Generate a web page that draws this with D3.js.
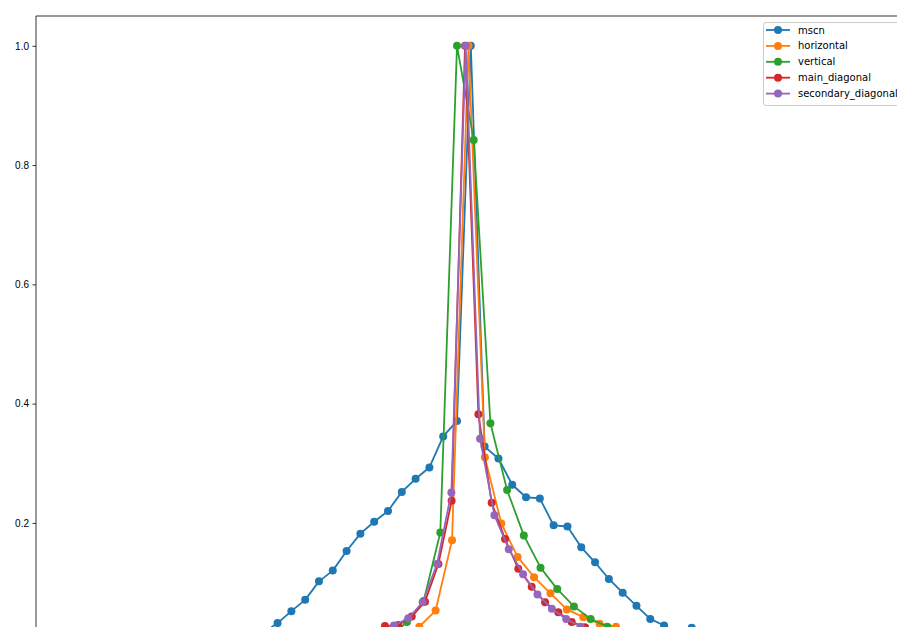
<!DOCTYPE html>
<html>
<head>
    <title>MSCN histograms</title>
    <script src="https://d3js.org/d3.v7.min.js"></script>
    <style>
        body { margin: 0; background: #fff; }
        svg { font-family: "DejaVu Sans", sans-serif; display: block; }
        .tick text { font-size: 10px; fill: #000; }
        .legend text { font-size: 10px; fill: #000; }
    </style>
</head>
<body>
    <svg width="897" height="627"></svg>
    <script>
        // series names and colours (matplotlib tab10)
        var seriesNames = ["mscn", "horizontal", "vertical", "main_diagonal", "secondary_diagonal"];
        var colors = ["#1f77b4", "#ff7f0e", "#2ca02c", "#d62728", "#9467bd"];

        // bin centres and normalised counts
        var mscnX = [-1.47, -1.37, -1.27, -1.17, -1.07, -0.97, -0.87, -0.77, -0.67, -0.57, -0.47, -0.37, -0.27, -0.17, -0.07, 0.03,
                     0.13, 0.23, 0.33, 0.43, 0.53, 0.63, 0.73, 0.83, 0.93, 1.03, 1.13, 1.23, 1.33, 1.43, 1.53, 1.63, 1.73];
        var mscnY = [0.016, 0.032, 0.052, 0.071, 0.102, 0.120, 0.153, 0.182, 0.202, 0.220, 0.252, 0.274, 0.293, 0.345, 0.371, 1.0,
                     0.328, 0.308, 0.264, 0.243, 0.241, 0.196, 0.194, 0.159, 0.134, 0.106, 0.083, 0.061, 0.039, 0.028, 0.016, 0.024, 0.012];

        var horizontalX = [-0.462, -0.343, -0.225, -0.106, 0.013, 0.132, 0.251, 0.369, 0.488, 0.607, 0.726, 0.845, 0.963, 1.082, 1.201];
        var horizontalY = [0.013, 0.026, 0.053, 0.171, 1.0, 0.310, 0.199, 0.143, 0.109, 0.082, 0.055, 0.042, 0.031, 0.026, 0.016];

        var verticalX = [-0.554, -0.433, -0.312, -0.191, -0.070, 0.051, 0.172, 0.293, 0.414, 0.535, 0.656, 0.777, 0.898, 1.019, 1.140];
        var verticalY = [0.008, 0.034, 0.069, 0.184, 1.0, 0.842, 0.367, 0.255, 0.179, 0.125, 0.089, 0.060, 0.039, 0.026, 0.015];

        var mainDiagX = [-0.688, -0.592, -0.495, -0.398, -0.302, -0.205, -0.109, -0.012, 0.085, 0.181, 0.278, 0.374, 0.471, 0.568, 0.664, 0.761, 0.857, 0.954];
        var mainDiagY = [0.012, 0.027, 0.029, 0.043, 0.068, 0.131, 0.237, 1.0, 0.382, 0.234, 0.173, 0.123, 0.093, 0.067, 0.050, 0.034, 0.025, 0.015];

        var secDiagX = [-0.631, -0.527, -0.423, -0.319, -0.215, -0.111, -0.007, 0.097, 0.201, 0.305, 0.409, 0.513, 0.617, 0.721, 0.825, 0.929];
        var secDiagY = [0.014, 0.028, 0.040, 0.067, 0.131, 0.251, 1.0, 0.341, 0.213, 0.156, 0.114, 0.080, 0.056, 0.039, 0.026, 0.015];

        var yTicks = [0.2, 0.4, 0.6, 0.8, 1.0];

        var allX = [mscnX, horizontalX, verticalX, mainDiagX, secDiagX];
        var allY = [mscnY, horizontalY, verticalY, mainDiagY, secDiagY];

        var series = seriesNames.map(function(name, i) {
            return {
                name: name,
                color: colors[i],
                points: allX[i].map(function(x, j) { return {x: x, y: allY[i][j]}; })
            };
        });

        var svg = d3.select("svg");
        // the figure is cropped: the axes run past the right and bottom edges
        var plotLeft = 36, plotTop = 16, plotRight = 936, plotBottom = 672;

        var x = d3.scaleLinear().domain([-3.12, 3.4]).range([plotLeft, plotRight]);
        var y = d3.scaleLinear().domain([-0.05, 1.05]).range([plotBottom, plotTop]);

        svg.append("clipPath").attr("id", "plot-clip")
            .append("rect")
            .attr("x", plotLeft).attr("y", plotTop)
            .attr("width", plotRight - plotLeft).attr("height", plotBottom - plotTop);

        var line = d3.line().x(d => x(d.x)).y(d => y(d.y));

        var plot = svg.append("g").attr("clip-path", "url(#plot-clip)");

        series.forEach(function(s) {
            var g = plot.append("g");
            g.append("path")
                .datum(s.points)
                .attr("fill", "none")
                .attr("stroke", s.color)
                .attr("stroke-width", 1.8)
                .attr("stroke-linejoin", "round")
                .attr("d", line);
            g.selectAll("circle")
                .data(s.points)
                .enter().append("circle")
                .attr("cx", d => x(d.x))
                .attr("cy", d => y(d.y))
                .attr("r", 4)
                .attr("fill", s.color);
        });

        // y axis
        var yAxis = svg.append("g")
            .attr("transform", "translate(" + plotLeft + ",0)")
            .call(d3.axisLeft(y).tickValues(yTicks).tickFormat(d3.format(".1f")).tickSize(3.5).tickPadding(3.5));
        yAxis.select(".domain").remove();
        yAxis.selectAll(".tick line").attr("stroke", "#000").attr("stroke-width", 0.8);

        // spines (left and top; others are out of frame)
        svg.append("line")
            .attr("x1", plotLeft).attr("x2", plotLeft).attr("y1", plotTop).attr("y2", plotBottom)
            .attr("stroke", "#000").attr("stroke-width", 0.8);
        svg.append("line")
            .attr("x1", plotLeft).attr("x2", plotRight).attr("y1", plotTop).attr("y2", plotTop)
            .attr("stroke", "#000").attr("stroke-width", 0.8);

        // Legend
        var legend = svg.append("g").attr("class", "legend")
            .attr("transform", "translate(763,22)");

        legend.append("rect")
            .attr("x", 0.5).attr("y", 0.5)
            .attr("width", 150).attr("height", 83)
            .attr("rx", 2.5)
            .attr("fill", "#fff").attr("fill-opacity", 0.8)
            .attr("stroke", "#ccc").attr("stroke-width", 1);

        var item = legend.selectAll(".item")
            .data(series)
            .enter().append("g")
            .attr("class", "item")
            .attr("transform", (d, i) => "translate(0," + (8 + i * 15.9) + ")");

        item.append("line")
            .attr("x1", 3).attr("x2", 27)
            .attr("stroke", d => d.color).attr("stroke-width", 1.8);
        item.append("circle")
            .attr("cx", 15).attr("r", 4)
            .attr("fill", d => d.color);
        item.append("text")
            .attr("x", 35)
            .attr("dy", "0.35em")
            .text(d => d.name);
    </script>
</body>
</html>
